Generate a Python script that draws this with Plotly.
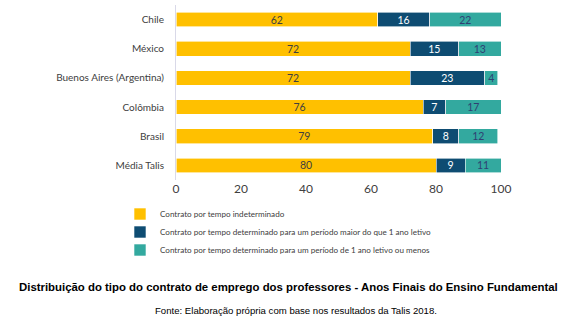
import plotly.graph_objects as go

countries = ["Chile", "México", "Buenos Aires (Argentina)", "Colômbia", "Brasil", "Média Talis"]
indeterminado = [62, 72, 72, 76, 79, 80]
maior_1_ano = [16, 15, 23, 7, 8, 9]
ate_1_ano = [22, 13, 4, 17, 12, 11]
x_ticks = [0, 20, 40, 60, 80, 100]

series = [
    ("Contrato por tempo indeterminado", indeterminado, "#FFC000", "#404040"),
    ("Contrato por tempo determinado para um período maior do que 1 ano letivo", maior_1_ano, "#0E4C72", "#FFFFFF"),
    ("Contrato por tempo determinado para um período de 1 ano letivo ou menos", ate_1_ano, "#33A99F", "#2F3F73"),
]

legend_ids = ["legend", "legend2", "legend3"]

# plot area in pixels: top 5, bottom 180 -> height 175
def py(pix):
    return (180 - pix) / 175

fig = go.Figure()
for (name, vals, color, txtcolor), lg in zip(series, legend_ids):
    fig.add_trace(go.Bar(
        y=countries, x=vals, name=name, orientation="h",
        legend=lg,
        marker=dict(color=color, line=dict(color="#FFFFFF", width=0.6)),
        text=[str(v) for v in vals], textposition="inside", insidetextanchor="middle",
        textangle=0,
        textfont=dict(color=txtcolor, size=10.5, family="Lato"),
        hoverinfo="skip",
    ))

legend_style = dict(
    orientation="v", xanchor="left", yanchor="middle",
    font=dict(size=8.1, family="Lato", color="#404040"),
    itemwidth=30, bgcolor="rgba(0,0,0,0)",
)
legend_x = (120 - 176) / 325
fig.update_layout(
    barmode="stack",
    width=567, height=333,
    margin=dict(l=176, r=66, t=5, b=153),
    paper_bgcolor="white", plot_bgcolor="white",
    bargap=0.5,
    font=dict(family="Lato", size=11, color="#404040"),
    showlegend=True,
    legend=dict(x=legend_x, y=py(214), **legend_style),
    legend2=dict(x=legend_x, y=py(232), **legend_style),
    legend3=dict(x=legend_x, y=py(250), **legend_style),
    uniformtext=dict(mode="show", minsize=8),
)
fig.update_xaxes(
    range=[0, 100], tickvals=x_ticks, ticktext=[str(t) for t in x_ticks],
    showgrid=False, zeroline=False, showline=False, ticks="",
    tickfont=dict(size=12, family="Lato", color="#404040"),
)
fig.update_yaxes(
    categoryorder="array", categoryarray=countries[::-1],
    showgrid=False, zeroline=False, showline=True, linecolor="#D9D9E8", linewidth=1,
    ticks="", ticklabelstandoff=9,
    tickfont=dict(size=10, family="Lato", color="#404040"),
)

fig.add_annotation(
    text="<b>Distribuição do tipo do contrato de emprego dos professores - Anos Finais do Ensino Fundamental</b>",
    xref="paper", yref="paper", x=(288 - 176) / 325, y=0, yshift=-107,
    xanchor="center", yanchor="middle", showarrow=False,
    font=dict(family="Liberation Sans", size=11.4, color="#000000"),
)
fig.add_annotation(
    text="Fonte: Elaboração própria com base nos resultados da Talis 2018.",
    xref="paper", yref="paper", x=(296 - 176) / 325, y=0, yshift=-130,
    xanchor="center", yanchor="middle", showarrow=False,
    font=dict(family="Liberation Sans", size=9.6, color="#000000"),
)

fig.write_html("out.html")
